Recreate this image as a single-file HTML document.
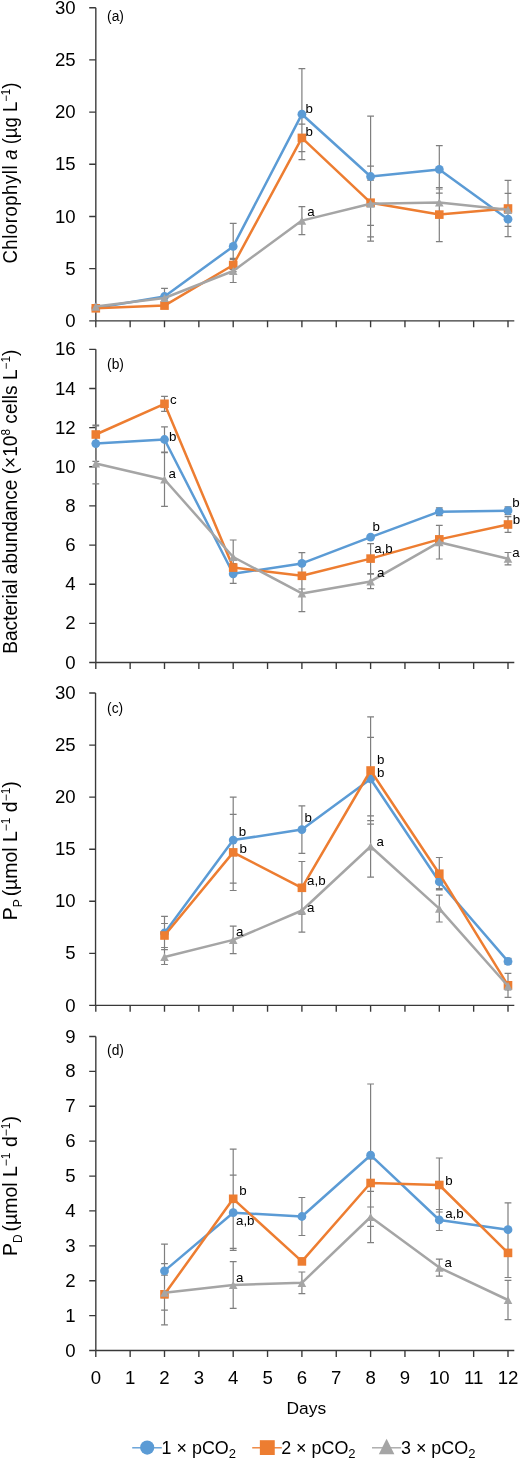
<!DOCTYPE html>
<html><head><meta charset="utf-8"><title>Chart</title>
<style>
html,body{margin:0;padding:0;background:#fff;}
body{width:520px;height:1460px;overflow:hidden;}
svg{display:block;will-change:transform;}
text{font-family:"Liberation Sans", sans-serif;fill:#000000;}
.tk{font-size:18.6px;}
.an{font-size:13.3px;}
.pl{font-size:13.8px;}
.ti{font-size:19.4px;}
.dy{font-size:17.4px;}
.lg{font-size:17.9px;}
</style></head>
<body>
<svg width="520" height="1460" viewBox="0 0 520 1460">
<rect width="520" height="1460" fill="#fff"/>
<path d="M95.83 7.7V320.85M95.83 320.85H514.3" stroke="#383838" stroke-width="1.36" fill="none"/>
<path d="M89.2 320.85H95.83M89.2 268.66H95.83M89.2 216.47H95.83M89.2 164.28H95.83M89.2 112.08H95.83M89.2 59.89H95.83M89.2 7.7H95.83M95.8 320.85V327.25M130.15 320.85V327.25M164.5 320.85V327.25M198.85 320.85V327.25M233.2 320.85V327.25M267.55 320.85V327.25M301.9 320.85V327.25M336.25 320.85V327.25M370.6 320.85V327.25M404.95 320.85V327.25M439.3 320.85V327.25M473.65 320.85V327.25M508 320.85V327.25" stroke="#383838" stroke-width="1.36" fill="none"/>
<text x="75.6" y="326.95" text-anchor="end" class="tk">0</text>
<text x="75.6" y="274.76" text-anchor="end" class="tk">5</text>
<text x="75.6" y="222.57" text-anchor="end" class="tk">10</text>
<text x="75.6" y="170.38" text-anchor="end" class="tk">15</text>
<text x="75.6" y="118.18" text-anchor="end" class="tk">20</text>
<text x="75.6" y="65.99" text-anchor="end" class="tk">25</text>
<text x="75.6" y="13.8" text-anchor="end" class="tk">30</text>
<path d="M95.83 349.35V662.5M95.83 662.5H514.3" stroke="#383838" stroke-width="1.36" fill="none"/>
<path d="M89.2 662.5H95.83M89.2 623.36H95.83M89.2 584.21H95.83M89.2 545.07H95.83M89.2 505.93H95.83M89.2 466.78H95.83M89.2 427.64H95.83M89.2 388.49H95.83M89.2 349.35H95.83M95.8 662.5V668.9M130.15 662.5V668.9M164.5 662.5V668.9M198.85 662.5V668.9M233.2 662.5V668.9M267.55 662.5V668.9M301.9 662.5V668.9M336.25 662.5V668.9M370.6 662.5V668.9M404.95 662.5V668.9M439.3 662.5V668.9M473.65 662.5V668.9M508 662.5V668.9" stroke="#383838" stroke-width="1.36" fill="none"/>
<text x="75.6" y="668.6" text-anchor="end" class="tk">0</text>
<text x="75.6" y="629.46" text-anchor="end" class="tk">2</text>
<text x="75.6" y="590.31" text-anchor="end" class="tk">4</text>
<text x="75.6" y="551.17" text-anchor="end" class="tk">6</text>
<text x="75.6" y="512.02" text-anchor="end" class="tk">8</text>
<text x="75.6" y="472.88" text-anchor="end" class="tk">10</text>
<text x="75.6" y="433.74" text-anchor="end" class="tk">12</text>
<text x="75.6" y="394.59" text-anchor="end" class="tk">14</text>
<text x="75.6" y="355.45" text-anchor="end" class="tk">16</text>
<path d="M95.55 693V1005.4M95.55 1005.4H514.3" stroke="#383838" stroke-width="1.36" fill="none"/>
<path d="M89.2 1005.4H95.55M89.2 953.33H95.55M89.2 901.27H95.55M89.2 849.2H95.55M89.2 797.13H95.55M89.2 745.07H95.55M89.2 693H95.55M95.8 1005.4V1011.8M130.15 1005.4V1011.8M164.5 1005.4V1011.8M198.85 1005.4V1011.8M233.2 1005.4V1011.8M267.55 1005.4V1011.8M301.9 1005.4V1011.8M336.25 1005.4V1011.8M370.6 1005.4V1011.8M404.95 1005.4V1011.8M439.3 1005.4V1011.8M473.65 1005.4V1011.8M508 1005.4V1011.8" stroke="#383838" stroke-width="1.36" fill="none"/>
<text x="75.6" y="1011.5" text-anchor="end" class="tk">0</text>
<text x="75.6" y="959.43" text-anchor="end" class="tk">5</text>
<text x="75.6" y="907.37" text-anchor="end" class="tk">10</text>
<text x="75.6" y="855.3" text-anchor="end" class="tk">15</text>
<text x="75.6" y="803.23" text-anchor="end" class="tk">20</text>
<text x="75.6" y="751.17" text-anchor="end" class="tk">25</text>
<text x="75.6" y="699.1" text-anchor="end" class="tk">30</text>
<path d="M95.83 1036.5V1350.5M95.83 1350.5H514.3" stroke="#383838" stroke-width="1.36" fill="none"/>
<path d="M89.2 1350.5H95.83M89.2 1315.61H95.83M89.2 1280.72H95.83M89.2 1245.83H95.83M89.2 1210.94H95.83M89.2 1176.06H95.83M89.2 1141.17H95.83M89.2 1106.28H95.83M89.2 1071.39H95.83M89.2 1036.5H95.83M95.8 1350.5V1356.9M130.15 1350.5V1356.9M164.5 1350.5V1356.9M198.85 1350.5V1356.9M233.2 1350.5V1356.9M267.55 1350.5V1356.9M301.9 1350.5V1356.9M336.25 1350.5V1356.9M370.6 1350.5V1356.9M404.95 1350.5V1356.9M439.3 1350.5V1356.9M473.65 1350.5V1356.9M508 1350.5V1356.9" stroke="#383838" stroke-width="1.36" fill="none"/>
<text x="75.6" y="1356.6" text-anchor="end" class="tk">0</text>
<text x="75.6" y="1321.71" text-anchor="end" class="tk">1</text>
<text x="75.6" y="1286.82" text-anchor="end" class="tk">2</text>
<text x="75.6" y="1251.93" text-anchor="end" class="tk">3</text>
<text x="75.6" y="1217.04" text-anchor="end" class="tk">4</text>
<text x="75.6" y="1182.16" text-anchor="end" class="tk">5</text>
<text x="75.6" y="1147.27" text-anchor="end" class="tk">6</text>
<text x="75.6" y="1112.38" text-anchor="end" class="tk">7</text>
<text x="75.6" y="1077.49" text-anchor="end" class="tk">8</text>
<text x="75.6" y="1042.6" text-anchor="end" class="tk">9</text>
<text x="95.8" y="1384.2" text-anchor="middle" class="tk">0</text>
<text x="130.15" y="1384.2" text-anchor="middle" class="tk">1</text>
<text x="164.5" y="1384.2" text-anchor="middle" class="tk">2</text>
<text x="198.85" y="1384.2" text-anchor="middle" class="tk">3</text>
<text x="233.2" y="1384.2" text-anchor="middle" class="tk">4</text>
<text x="267.55" y="1384.2" text-anchor="middle" class="tk">5</text>
<text x="301.9" y="1384.2" text-anchor="middle" class="tk">6</text>
<text x="336.25" y="1384.2" text-anchor="middle" class="tk">7</text>
<text x="370.6" y="1384.2" text-anchor="middle" class="tk">8</text>
<text x="404.95" y="1384.2" text-anchor="middle" class="tk">9</text>
<text x="439.3" y="1384.2" text-anchor="middle" class="tk">10</text>
<text x="473.65" y="1384.2" text-anchor="middle" class="tk">11</text>
<text x="508" y="1384.2" text-anchor="middle" class="tk">12</text>
<path d="M164.5 288.3V304.7M161.1 288.3H167.9M161.1 304.7H167.9M233.2 223.4V269.4M229.8 223.4H236.6M229.8 269.4H236.6M301.9 68.7V159.7M298.5 68.7H305.3M298.5 159.7H305.3M370.6 116.2V236.8M367.2 116.2H374M367.2 236.8H374M439.3 145.6V193.2M435.9 145.6H442.7M435.9 193.2H442.7M508 211.9V226.5M504.6 211.9H511.4M504.6 226.5H511.4M233.2 258.3V271.7M229.8 258.3H236.6M229.8 271.7H236.6M301.9 124.1V151.7M298.5 124.1H305.3M298.5 151.7H305.3M370.6 180.1V225.3M367.2 180.1H374M367.2 225.3H374M439.3 187.5V241.7M435.9 187.5H442.7M435.9 241.7H442.7M508 180.4V236.6M504.6 180.4H511.4M504.6 236.6H511.4M233.2 259.5V282.5M229.8 259.5H236.6M229.8 282.5H236.6M301.9 206.6V234.6M298.5 206.6H305.3M298.5 234.6H305.3M370.6 166.2V241.2M367.2 166.2H374M367.2 241.2H374M439.3 189V216M435.9 189H442.7M435.9 216H442.7M508 193.3V226.3M504.6 193.3H511.4M504.6 226.3H511.4" stroke="#7F7F7F" stroke-width="1.2" fill="none"/>
<polyline points="95.8,308 164.5,296.5 233.2,246.4 301.9,114.2 370.6,176.5 439.3,169.4 508,219.2" stroke="#5B9BD5" stroke-width="2.5" fill="none" stroke-linejoin="round"/>
<circle cx="95.8" cy="308" r="4.4" fill="#5B9BD5"/>
<circle cx="164.5" cy="296.5" r="4.4" fill="#5B9BD5"/>
<circle cx="233.2" cy="246.4" r="4.4" fill="#5B9BD5"/>
<circle cx="301.9" cy="114.2" r="4.4" fill="#5B9BD5"/>
<circle cx="370.6" cy="176.5" r="4.4" fill="#5B9BD5"/>
<circle cx="439.3" cy="169.4" r="4.4" fill="#5B9BD5"/>
<circle cx="508" cy="219.2" r="4.4" fill="#5B9BD5"/>
<polyline points="95.8,308.3 164.5,305.6 233.2,265 301.9,137.9 370.6,202.7 439.3,214.6 508,208.5" stroke="#ED7D31" stroke-width="2.5" fill="none" stroke-linejoin="round"/>
<rect x="91.5" y="304" width="8.6" height="8.6" fill="#ED7D31"/>
<rect x="160.2" y="301.3" width="8.6" height="8.6" fill="#ED7D31"/>
<rect x="228.9" y="260.7" width="8.6" height="8.6" fill="#ED7D31"/>
<rect x="297.6" y="133.6" width="8.6" height="8.6" fill="#ED7D31"/>
<rect x="366.3" y="198.4" width="8.6" height="8.6" fill="#ED7D31"/>
<rect x="435" y="210.3" width="8.6" height="8.6" fill="#ED7D31"/>
<rect x="503.7" y="204.2" width="8.6" height="8.6" fill="#ED7D31"/>
<polyline points="95.8,306.6 164.5,298 233.2,271 301.9,220.6 370.6,203.7 439.3,202.5 508,209.8" stroke="#A5A5A5" stroke-width="2.5" fill="none" stroke-linejoin="round"/>
<path d="M95.8 302.5L100.1 310.7L91.5 310.7Z" fill="#A5A5A5"/>
<path d="M164.5 293.9L168.8 302.1L160.2 302.1Z" fill="#A5A5A5"/>
<path d="M233.2 266.9L237.5 275.1L228.9 275.1Z" fill="#A5A5A5"/>
<path d="M301.9 216.5L306.2 224.7L297.6 224.7Z" fill="#A5A5A5"/>
<path d="M370.6 199.6L374.9 207.8L366.3 207.8Z" fill="#A5A5A5"/>
<path d="M439.3 198.4L443.6 206.6L435 206.6Z" fill="#A5A5A5"/>
<path d="M508 205.7L512.3 213.9L503.7 213.9Z" fill="#A5A5A5"/>
<path d="M95.8 425.8V461.4M92.4 425.8H99.2M92.4 461.4H99.2M164.5 426.8V452.2M161.1 426.8H167.9M161.1 452.2H167.9M233.2 564.3V583.3M229.8 564.3H236.6M229.8 583.3H236.6M301.9 552.7V574.1M298.5 552.7H305.3M298.5 574.1H305.3M439.3 507.8V515.6M435.9 507.8H442.7M435.9 515.6H442.7M508 506.8V514.6M504.6 506.8H511.4M504.6 514.6H511.4M95.8 425.2V443.8M92.4 425.2H99.2M92.4 443.8H99.2M164.5 396.3V411.3M161.1 396.3H167.9M161.1 411.3H167.9M233.2 563.6V571.6M229.8 563.6H236.6M229.8 571.6H236.6M301.9 562.6V589M298.5 562.6H305.3M298.5 589H305.3M370.6 543.6V573.6M367.2 543.6H374M367.2 573.6H374M439.3 536.4V542.4M435.9 536.4H442.7M435.9 542.4H442.7M508 516.6V532.4M504.6 516.6H511.4M504.6 532.4H511.4M95.8 443.2V483.8M92.4 443.2H99.2M92.4 483.8H99.2M164.5 452.6V506.4M161.1 452.6H167.9M161.1 506.4H167.9M233.2 540V574M229.8 540H236.6M229.8 574H236.6M301.9 575.1V611.7M298.5 575.1H305.3M298.5 611.7H305.3M370.6 574.2V588.6M367.2 574.2H374M367.2 588.6H374M439.3 525.4V559M435.9 525.4H442.7M435.9 559H442.7M508 552.5V564.9M504.6 552.5H511.4M504.6 564.9H511.4" stroke="#7F7F7F" stroke-width="1.2" fill="none"/>
<polyline points="95.8,443.6 164.5,439.5 233.2,573.8 301.9,563.4 370.6,537.1 439.3,511.7 508,510.7" stroke="#5B9BD5" stroke-width="2.5" fill="none" stroke-linejoin="round"/>
<circle cx="95.8" cy="443.6" r="4.4" fill="#5B9BD5"/>
<circle cx="164.5" cy="439.5" r="4.4" fill="#5B9BD5"/>
<circle cx="233.2" cy="573.8" r="4.4" fill="#5B9BD5"/>
<circle cx="301.9" cy="563.4" r="4.4" fill="#5B9BD5"/>
<circle cx="370.6" cy="537.1" r="4.4" fill="#5B9BD5"/>
<circle cx="439.3" cy="511.7" r="4.4" fill="#5B9BD5"/>
<circle cx="508" cy="510.7" r="4.4" fill="#5B9BD5"/>
<polyline points="95.8,434.5 164.5,403.8 233.2,567.6 301.9,575.8 370.6,558.6 439.3,539.4 508,524.5" stroke="#ED7D31" stroke-width="2.5" fill="none" stroke-linejoin="round"/>
<rect x="91.5" y="430.2" width="8.6" height="8.6" fill="#ED7D31"/>
<rect x="160.2" y="399.5" width="8.6" height="8.6" fill="#ED7D31"/>
<rect x="228.9" y="563.3" width="8.6" height="8.6" fill="#ED7D31"/>
<rect x="297.6" y="571.5" width="8.6" height="8.6" fill="#ED7D31"/>
<rect x="366.3" y="554.3" width="8.6" height="8.6" fill="#ED7D31"/>
<rect x="435" y="535.1" width="8.6" height="8.6" fill="#ED7D31"/>
<rect x="503.7" y="520.2" width="8.6" height="8.6" fill="#ED7D31"/>
<polyline points="95.8,463.5 164.5,479.5 233.2,557 301.9,593.4 370.6,581.4 439.3,542.2 508,558.7" stroke="#A5A5A5" stroke-width="2.5" fill="none" stroke-linejoin="round"/>
<path d="M95.8 459.4L100.1 467.6L91.5 467.6Z" fill="#A5A5A5"/>
<path d="M164.5 475.4L168.8 483.6L160.2 483.6Z" fill="#A5A5A5"/>
<path d="M233.2 552.9L237.5 561.1L228.9 561.1Z" fill="#A5A5A5"/>
<path d="M301.9 589.3L306.2 597.5L297.6 597.5Z" fill="#A5A5A5"/>
<path d="M370.6 577.3L374.9 585.5L366.3 585.5Z" fill="#A5A5A5"/>
<path d="M439.3 538.1L443.6 546.3L435 546.3Z" fill="#A5A5A5"/>
<path d="M508 554.6L512.3 562.8L503.7 562.8Z" fill="#A5A5A5"/>
<path d="M164.5 916.4V949.6M161.1 916.4H167.9M161.1 949.6H167.9M233.2 797.1V883.1M229.8 797.1H236.6M229.8 883.1H236.6M301.9 805.8V853.4M298.5 805.8H305.3M298.5 853.4H305.3M370.6 737.3V820.7M367.2 737.3H374M367.2 820.7H374M439.3 874.8V888.6M435.9 874.8H442.7M435.9 888.6H442.7M508 958.4V964.4M504.6 958.4H511.4M504.6 964.4H511.4M164.5 923.5V947.5M161.1 923.5H167.9M161.1 947.5H167.9M233.2 814.3V890.5M229.8 814.3H236.6M229.8 890.5H236.6M301.9 861.5V914.1M298.5 861.5H305.3M298.5 914.1H305.3M370.6 716.9V824.1M367.2 716.9H374M367.2 824.1H374M439.3 857.5V889.9M435.9 857.5H442.7M435.9 889.9H442.7M508 973.3V997.3M504.6 973.3H511.4M504.6 997.3H511.4M164.5 949.5V964.5M161.1 949.5H167.9M161.1 964.5H167.9M233.2 926.1V953.7M229.8 926.1H236.6M229.8 953.7H236.6M301.9 888.9V932.1M298.5 888.9H305.3M298.5 932.1H305.3M370.6 815.9V877.1M367.2 815.9H374M367.2 877.1H374M439.3 895.2V922M435.9 895.2H442.7M435.9 922H442.7M508 982V990M504.6 982H511.4M504.6 990H511.4" stroke="#7F7F7F" stroke-width="1.2" fill="none"/>
<polyline points="164.5,933 233.2,840.1 301.9,829.6 370.6,779 439.3,881.7 508,961.4" stroke="#5B9BD5" stroke-width="2.5" fill="none" stroke-linejoin="round"/>
<circle cx="164.5" cy="933" r="4.4" fill="#5B9BD5"/>
<circle cx="233.2" cy="840.1" r="4.4" fill="#5B9BD5"/>
<circle cx="301.9" cy="829.6" r="4.4" fill="#5B9BD5"/>
<circle cx="370.6" cy="779" r="4.4" fill="#5B9BD5"/>
<circle cx="439.3" cy="881.7" r="4.4" fill="#5B9BD5"/>
<circle cx="508" cy="961.4" r="4.4" fill="#5B9BD5"/>
<polyline points="164.5,935.5 233.2,852.4 301.9,887.8 370.6,770.5 439.3,873.7 508,985.3" stroke="#ED7D31" stroke-width="2.5" fill="none" stroke-linejoin="round"/>
<rect x="160.2" y="931.2" width="8.6" height="8.6" fill="#ED7D31"/>
<rect x="228.9" y="848.1" width="8.6" height="8.6" fill="#ED7D31"/>
<rect x="297.6" y="883.5" width="8.6" height="8.6" fill="#ED7D31"/>
<rect x="366.3" y="766.2" width="8.6" height="8.6" fill="#ED7D31"/>
<rect x="435" y="869.4" width="8.6" height="8.6" fill="#ED7D31"/>
<rect x="503.7" y="981" width="8.6" height="8.6" fill="#ED7D31"/>
<polyline points="164.5,957 233.2,939.9 301.9,910.5 370.6,846.5 439.3,908.6 508,986" stroke="#A5A5A5" stroke-width="2.5" fill="none" stroke-linejoin="round"/>
<path d="M164.5 952.9L168.8 961.1L160.2 961.1Z" fill="#A5A5A5"/>
<path d="M233.2 935.8L237.5 944L228.9 944Z" fill="#A5A5A5"/>
<path d="M301.9 906.4L306.2 914.6L297.6 914.6Z" fill="#A5A5A5"/>
<path d="M370.6 842.4L374.9 850.6L366.3 850.6Z" fill="#A5A5A5"/>
<path d="M439.3 904.5L443.6 912.7L435 912.7Z" fill="#A5A5A5"/>
<path d="M508 981.9L512.3 990.1L503.7 990.1Z" fill="#A5A5A5"/>
<path d="M164.5 1244.1V1297.7M161.1 1244.1H167.9M161.1 1297.7H167.9M233.2 1175.1V1250.3M229.8 1175.1H236.6M229.8 1250.3H236.6M301.9 1197.5V1235.5M298.5 1197.5H305.3M298.5 1235.5H305.3M370.6 1084V1226.4M367.2 1084H374M367.2 1226.4H374M439.3 1209.5V1230.5M435.9 1209.5H442.7M435.9 1230.5H442.7M508 1202.9V1256.5M504.6 1202.9H511.4M504.6 1256.5H511.4M164.5 1263.7V1324.9M161.1 1263.7H167.9M161.1 1324.9H167.9M233.2 1149.2V1248.4M229.8 1149.2H236.6M229.8 1248.4H236.6M301.9 1258.4V1264.4M298.5 1258.4H305.3M298.5 1264.4H305.3M370.6 1159V1207M367.2 1159H374M367.2 1207H374M439.3 1158V1212M435.9 1158H442.7M435.9 1212H442.7M508 1228.3V1277.5M504.6 1228.3H511.4M504.6 1277.5H511.4M164.5 1275.2V1310.2M161.1 1275.2H167.9M161.1 1310.2H167.9M233.2 1261.6V1308.4M229.8 1261.6H236.6M229.8 1308.4H236.6M301.9 1272V1293.6M298.5 1272H305.3M298.5 1293.6H305.3M370.6 1191.4V1242.6M367.2 1191.4H374M367.2 1242.6H374M439.3 1259.1V1276.1M435.9 1259.1H442.7M435.9 1276.1H442.7M508 1280.4V1319.6M504.6 1280.4H511.4M504.6 1319.6H511.4" stroke="#7F7F7F" stroke-width="1.2" fill="none"/>
<polyline points="164.5,1270.9 233.2,1212.7 301.9,1216.5 370.6,1155.2 439.3,1220 508,1229.7" stroke="#5B9BD5" stroke-width="2.5" fill="none" stroke-linejoin="round"/>
<circle cx="164.5" cy="1270.9" r="4.4" fill="#5B9BD5"/>
<circle cx="233.2" cy="1212.7" r="4.4" fill="#5B9BD5"/>
<circle cx="301.9" cy="1216.5" r="4.4" fill="#5B9BD5"/>
<circle cx="370.6" cy="1155.2" r="4.4" fill="#5B9BD5"/>
<circle cx="439.3" cy="1220" r="4.4" fill="#5B9BD5"/>
<circle cx="508" cy="1229.7" r="4.4" fill="#5B9BD5"/>
<polyline points="164.5,1294.3 233.2,1198.8 301.9,1261.4 370.6,1183 439.3,1185 508,1252.9" stroke="#ED7D31" stroke-width="2.5" fill="none" stroke-linejoin="round"/>
<rect x="160.2" y="1290" width="8.6" height="8.6" fill="#ED7D31"/>
<rect x="228.9" y="1194.5" width="8.6" height="8.6" fill="#ED7D31"/>
<rect x="297.6" y="1257.1" width="8.6" height="8.6" fill="#ED7D31"/>
<rect x="366.3" y="1178.7" width="8.6" height="8.6" fill="#ED7D31"/>
<rect x="435" y="1180.7" width="8.6" height="8.6" fill="#ED7D31"/>
<rect x="503.7" y="1248.6" width="8.6" height="8.6" fill="#ED7D31"/>
<polyline points="164.5,1292.7 233.2,1285 301.9,1282.8 370.6,1217 439.3,1267.6 508,1300" stroke="#A5A5A5" stroke-width="2.5" fill="none" stroke-linejoin="round"/>
<path d="M164.5 1288.6L168.8 1296.8L160.2 1296.8Z" fill="#A5A5A5"/>
<path d="M233.2 1280.9L237.5 1289.1L228.9 1289.1Z" fill="#A5A5A5"/>
<path d="M301.9 1278.7L306.2 1286.9L297.6 1286.9Z" fill="#A5A5A5"/>
<path d="M370.6 1212.9L374.9 1221.1L366.3 1221.1Z" fill="#A5A5A5"/>
<path d="M439.3 1263.5L443.6 1271.7L435 1271.7Z" fill="#A5A5A5"/>
<path d="M508 1295.9L512.3 1304.1L503.7 1304.1Z" fill="#A5A5A5"/>
<text x="305.5" y="112.6" class="an">b</text>
<text x="305.5" y="135.7" class="an">b</text>
<text x="307.3" y="215.8" class="an">a</text>
<text x="170" y="403.7" class="an">c</text>
<text x="168.9" y="441" class="an">b</text>
<text x="168.6" y="478.4" class="an">a</text>
<text x="372.5" y="530.6" class="an">b</text>
<text x="374.2" y="553.4" class="an">a,b</text>
<text x="377.1" y="576.5" class="an">a</text>
<text x="512.3" y="507.3" class="an">b</text>
<text x="512.7" y="523.8" class="an">b</text>
<text x="512.2" y="557.3" class="an">a</text>
<text x="238.8" y="835.9" class="an">b</text>
<text x="239.4" y="853.2" class="an">b</text>
<text x="235.9" y="935.5" class="an">a</text>
<text x="304.4" y="822.3" class="an">b</text>
<text x="307.1" y="885.2" class="an">a,b</text>
<text x="307.1" y="912.3" class="an">a</text>
<text x="377.1" y="763.8" class="an">b</text>
<text x="377.1" y="777.3" class="an">b</text>
<text x="376.5" y="845.9" class="an">a</text>
<text x="239.3" y="1195.4" class="an">b</text>
<text x="236" y="1225" class="an">a,b</text>
<text x="236" y="1281.7" class="an">a</text>
<text x="445.2" y="1185.4" class="an">b</text>
<text x="445.2" y="1217.7" class="an">a,b</text>
<text x="444.4" y="1267.3" class="an">a</text>
<text x="107.1" y="20.8" class="pl">(a)</text>
<text x="107.1" y="369.2" class="pl">(b)</text>
<text x="107.1" y="713" class="pl">(c)</text>
<text x="107.1" y="1054.5" class="pl">(d)</text>
<text transform="translate(16.7 263.6) rotate(-90)" x="0" y="0" class="ti" textLength="181" lengthAdjust="spacingAndGlyphs"><tspan letter-spacing="0.6">Chlorophyll</tspan> <tspan font-style="italic">a</tspan> (µg L<tspan dy="-7" font-size="12">−1</tspan><tspan dy="7">)</tspan></text>
<text transform="translate(16.7 653.8) rotate(-90)" x="0" y="0" class="ti" textLength="304.2" lengthAdjust="spacingAndGlyphs">Bacterial abundance (×10<tspan dy="-7" font-size="12">8</tspan><tspan dy="7"> cells L</tspan><tspan dy="-7" font-size="12">−1</tspan><tspan dy="7">)</tspan></text>
<text transform="translate(16.7 920.2) rotate(-90)" x="0" y="0" class="ti" textLength="139" lengthAdjust="spacingAndGlyphs">P<tspan dy="5" font-size="12">P</tspan><tspan dy="-5" dx="-2.5"> (µmol L</tspan><tspan dy="-7" font-size="12">−1</tspan><tspan dy="7"> d</tspan><tspan dy="-7" font-size="12">−1</tspan><tspan dy="7">)</tspan></text>
<text transform="translate(16.7 1256) rotate(-90)" x="0" y="0" class="ti" textLength="140" lengthAdjust="spacingAndGlyphs">P<tspan dy="5" font-size="12">D</tspan><tspan dy="-5" dx="-2.5"> (µmol L</tspan><tspan dy="-7" font-size="12">−1</tspan><tspan dy="7"> d</tspan><tspan dy="-7" font-size="12">−1</tspan><tspan dy="7">)</tspan></text>
<text x="286.5" y="1414.2" class="dy">Days</text>
<path d="M132.2 1447.8H161.8" stroke="#5B9BD5" stroke-width="1.35"/>
<circle cx="147.2" cy="1447.6" r="7.1" fill="#5B9BD5"/>
<text x="161.6" y="1454" class="lg">1 × pCO<tspan dy="3.6" font-size="13">2</tspan></text>
<path d="M252.2 1447.8H281.8" stroke="#ED7D31" stroke-width="1.35"/>
<rect x="259.85" y="1440.2" width="14.9" height="14.8" fill="#ED7D31"/>
<text x="281.2" y="1454" class="lg">2 × pCO<tspan dy="3.6" font-size="13">2</tspan></text>
<path d="M372 1447.8H401.1" stroke="#A5A5A5" stroke-width="1.35"/>
<path d="M386.6 1438.8L394.4 1454.2L378.8 1454.2Z" fill="#A5A5A5"/>
<text x="401" y="1454" class="lg">3 × pCO<tspan dy="3.6" font-size="13">2</tspan></text>
</svg>
</body></html>
